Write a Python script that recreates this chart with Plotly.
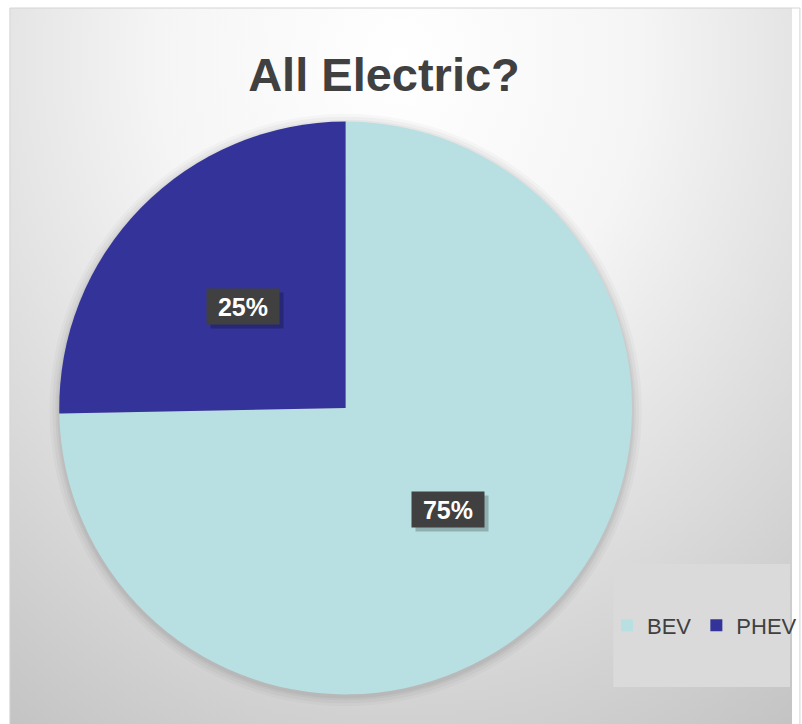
import math
import plotly.graph_objects as go

# ---------------- data ----------------
labels = ["BEV", "PHEV"]
values = [74.7, 25.3]
colors = ["#B8E0E3", "#333399"]
title_text = "All Electric?"

# ---------------- layout geometry (pixels) ----------------
W, H = 802, 724
cx_px, cy_px, r_px = 350, 408, 290
chart_x0, chart_y0 = 10, 8  # chart area top-left

def px2paper(x, y):
    return x / W, 1 - y / H

dom_x = [(cx_px - r_px) / W, (cx_px + r_px) / W]
dom_y = [1 - (cy_px + r_px) / H, 1 - (cy_px - r_px) / H]

fig = go.Figure()

# ---------------- background (radial gradient) ----------------
gcx, gcy, grx, gry = 405, 60, 700, 800
cw, ch = W - chart_x0, H - chart_y0
ax_cx = (gcx - chart_x0) / cw
ax_cy = 1 - (gcy - chart_y0) / ch
ax_rx = grx / cw
ax_ry = gry / ch
bx = [ax_cx - ax_rx, ax_cx + ax_rx, ax_cx + ax_rx, ax_cx - ax_rx, ax_cx - ax_rx]
by = [ax_cy - ax_ry, ax_cy - ax_ry, ax_cy + ax_ry, ax_cy + ax_ry, ax_cy - ax_ry]
fig.add_trace(go.Scatter(
    x=bx, y=by, mode="lines", fill="toself",
    line=dict(width=0, color="rgba(0,0,0,0)"),
    fillgradient=dict(type="radial",
                      colorscale=[[0, "#ffffff"], [0.35, "#f5f5f5"], [1, "#c4c4c4"]]),
    hoverinfo="skip", showlegend=False,
))

# ---------------- soft shadow behind pie ----------------
for k, a in [(10, 0.025), (7, 0.03), (4, 0.035), (2, 0.04)]:
    rr = r_px + k
    fig.add_trace(go.Pie(
        labels=["_shadow%d" % k], values=[1],
        domain=dict(x=[(cx_px - rr) / W, (cx_px + rr) / W],
                    y=[1 - (cy_px + 2 + rr) / H, 1 - (cy_px + 2 - rr) / H]),
        marker=dict(colors=["rgba(0,0,0,%g)" % a], line=dict(width=0)),
        textinfo="none", hoverinfo="skip", showlegend=False, sort=False,
    ))

# ---------------- main pie ----------------
fig.add_trace(go.Pie(
    labels=labels, values=values,
    domain=dict(x=dom_x, y=dom_y),
    marker=dict(colors=colors, line=dict(width=0)),
    sort=False, direction="clockwise", rotation=0,
    textinfo="none", hoverinfo="label+percent",
))

# ---------------- data labels (boxed) ----------------
total = sum(values)
cum = 0.0
pcx, pcy = (dom_x[0] + dom_x[1]) / 2, (dom_y[0] + dom_y[1]) / 2
annotations = []
for v in values:
    mid = (cum + v / 2) / total * 2 * math.pi
    cum += v
    lx = pcx + 0.5 * r_px * math.sin(mid) / W
    ly = pcy + 0.5 * r_px * math.cos(mid) / H
    txt = "%d%%" % round(v / total * 100)
    common = dict(x=lx, y=ly, xref="paper", yref="paper", showarrow=False,
                  width=66, height=29, borderpad=3,
                  xanchor="center", yanchor="middle")
    annotations.append(dict(common, text=" ",
                            font=dict(family="Liberation Sans", size=25, color="rgba(0,0,0,0)"),
                            bgcolor="rgba(0,0,0,0.22)", xshift=4, yshift=-4))
    annotations.append(dict(common, text=txt,
                            font=dict(family="Liberation Sans", size=25,
                                      color="#ffffff", weight="bold"),
                            bgcolor="#404040"))

# ---------------- shapes ----------------
lx0, ly0 = px2paper(621, 687)
lx1, ly1 = px2paper(800, 564)
shapes = [
    dict(type="rect", xref="paper", yref="paper", x0=lx0, y0=ly0, x1=lx1, y1=ly1,
         fillcolor="#dadada", line=dict(width=0), layer="above"),
    dict(type="rect", xref="paper", yref="paper",
         x0=chart_x0 / W, y0=-0.01, x1=1.01, y1=1 - chart_y0 / H,
         fillcolor="rgba(0,0,0,0)", line=dict(width=1, color="#d4d4d4"), layer="above"),
]

tx, ty = px2paper(384, 75)
fig.update_layout(
    width=W, height=H,
    margin=dict(l=0, r=0, t=0, b=0),
    paper_bgcolor="#ffffff", plot_bgcolor="rgba(0,0,0,0)",
    xaxis=dict(domain=[chart_x0 / W, 1], range=[0, 1], visible=False, fixedrange=True),
    yaxis=dict(domain=[0, 1 - chart_y0 / H], range=[0, 1], visible=False, fixedrange=True),
    title=dict(text=title_text, x=tx, y=ty, xanchor="center", yanchor="middle",
               font=dict(family="Liberation Sans", size=47, color="#404040", weight="bold")),
    showlegend=True,
    legend=dict(orientation="h", x=(lx0 + lx1) / 2 + 3 / W, y=(ly0 + ly1) / 2,
                xanchor="center", yanchor="middle",
                bgcolor="rgba(0,0,0,0)", borderwidth=0,
                font=dict(family="Liberation Sans", size=22, color="#404040"),
                itemwidth=30, traceorder="normal"),
    annotations=annotations,
    shapes=shapes,
)

fig.write_html("out.html")
